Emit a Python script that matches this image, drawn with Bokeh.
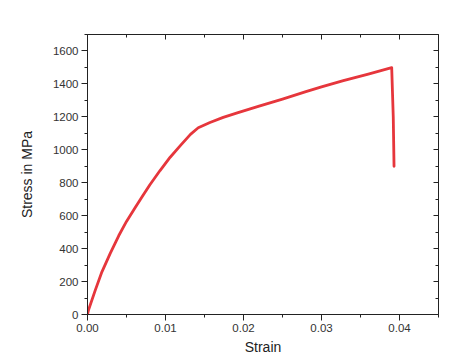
from bokeh.plotting import figure
from bokeh.models import LinearAxis, SingleIntervalTicker, NumeralTickFormatter, Range1d
from bokeh.embed import file_html
from bokeh.resources import INLINE

strain = [0.0, 0.00013, 0.0010, 0.00185, 0.0029, 0.0040, 0.0050, 0.0061, 0.0070,
          0.0080, 0.0093, 0.0106, 0.0119, 0.0132, 0.0142, 0.0157, 0.0174, 0.0192,
          0.0220, 0.0250, 0.0280, 0.0300, 0.0328, 0.0360, 0.0390, 0.0392, 0.0393]
stress = [0, 27, 148, 259, 370, 478, 565, 648, 715,
          788, 874, 955, 1025, 1094, 1134, 1166, 1197, 1224,
          1265, 1308, 1353, 1382, 1420, 1460, 1499, 1200, 900]

x_label = "Strain"
y_label = "Stress in MPa"

p = figure(width=466, height=360, output_backend="svg", toolbar_location=None,
           x_range=Range1d(0, 0.045), y_range=Range1d(0, 1700),
           min_border_left=87, min_border_right=28, min_border_top=34, min_border_bottom=46)
p.grid.visible = False
p.outline_line_color = None
p.background_fill_color = "white"
p.border_fill_color = "white"

p.line(strain, stress, line_color="#e6363c", line_width=2.8, line_join="round", line_cap="round")

xt = SingleIntervalTicker(interval=0.01, num_minor_ticks=2)
yt = SingleIntervalTicker(interval=200, num_minor_ticks=2)

def style(ax, inside=False):
    ax.axis_line_color = "#222222"
    ax.major_tick_line_color = "#222222"
    ax.minor_tick_line_color = "#222222"
    ax.major_label_text_font = "Liberation Sans"
    ax.major_label_text_font_size = "11.5px"
    ax.major_label_text_color = "#333333"
    ax.axis_label_text_font = "Liberation Sans"
    ax.axis_label_text_font_size = "14px"
    ax.axis_label_text_font_style = "normal"
    ax.axis_label_text_color = "#222222"
    if inside:
        ax.major_tick_in = 5
        ax.major_tick_out = 0
        ax.minor_tick_in = 3
        ax.minor_tick_out = 0
        ax.major_label_text_color = None
    else:
        ax.major_tick_in = 0
        ax.major_tick_out = 6
        ax.minor_tick_in = 0
        ax.minor_tick_out = 3

xa = p.xaxis[0]
xa.ticker = xt
xa.formatter = NumeralTickFormatter(format="0.00")
xa.axis_label = x_label
style(xa)
xa.major_label_standoff = 3
xa.axis_label_standoff = 4

ya = p.yaxis[0]
ya.ticker = yt
ya.axis_label = y_label
style(ya)
ya.major_label_standoff = 3
ya.axis_label_standoff = 15

top = LinearAxis(ticker=SingleIntervalTicker(interval=0.01, num_minor_ticks=2))
style(top, inside=True)
p.add_layout(top, "above")

right = LinearAxis(ticker=SingleIntervalTicker(interval=200, num_minor_ticks=2))
style(right, inside=True)
p.add_layout(right, "right")

open("out.html", "w").write(file_html(p, INLINE))
